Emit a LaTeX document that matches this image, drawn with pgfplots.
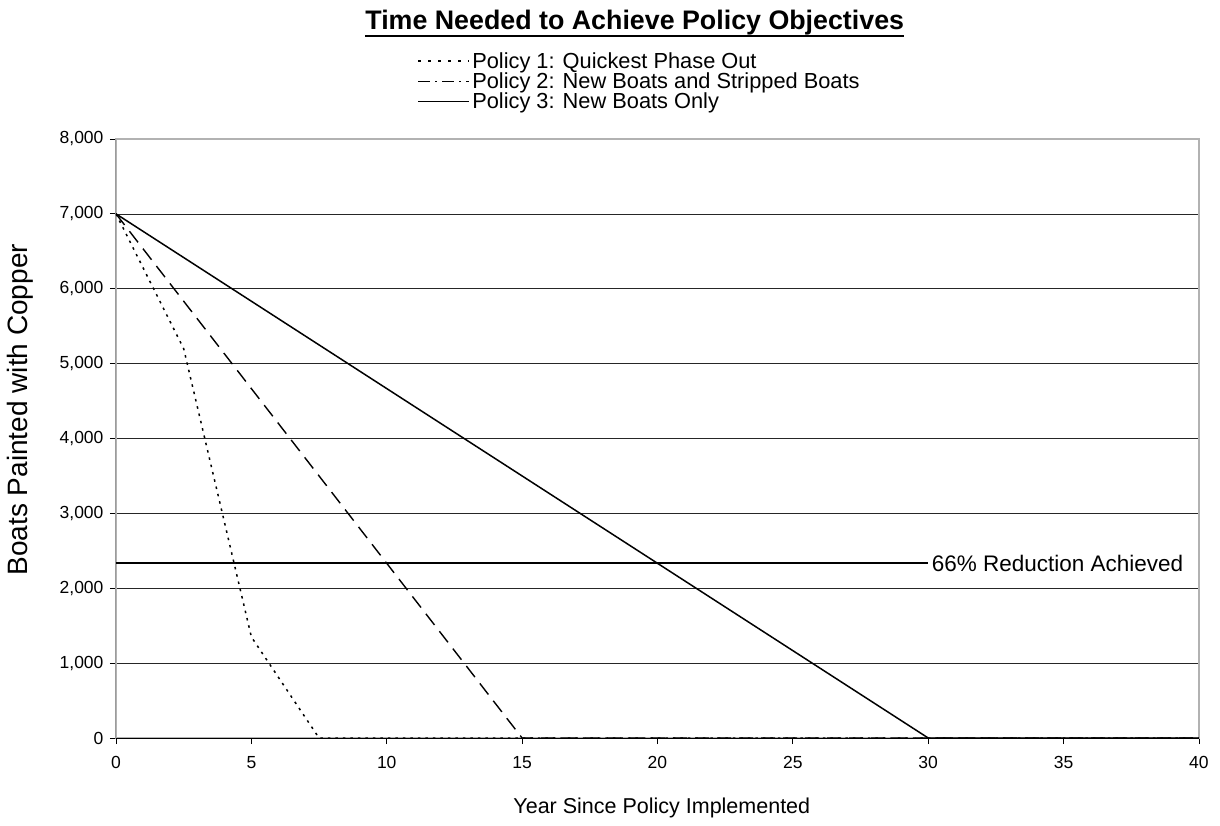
\documentclass[border=0pt]{standalone}
\usepackage{fontspec}
\setmainfont{Liberation Sans}
\usepackage{pgfplots}
\pgfplotsset{compat=1.18}
\begin{document}
\begin{tikzpicture}
\useasboundingbox (-116pt,-87pt) rectangle (1104pt,738pt);
\begin{axis}[
  scale only axis, width=1083pt, height=599pt,
  xmin=0, xmax=40, ymin=0, ymax=8000,
  xtick={0,5,...,40}, ytick={0,1000,...,8000},
  tick align=outside, xtick pos=bottom, ytick pos=left,
  major tick length=6pt,
  tick style={black, line width=0.8pt},
  ymajorgrids, grid style={black!85, line width=0.7pt},
  axis line style={draw=gray!60, line width=1.5pt},
  /pgf/number format/assume math mode=true,
  /pgf/number format/1000 sep={,},
  scaled y ticks=false,
  ticklabel style={font=\fontsize{17.5}{20}\selectfont},
  yticklabel style={xshift=-3pt},
  xticklabel style={yshift=-9pt},
  title={\setbox0\hbox{Time Needed to Achieve Policy Objectives}\rlap{\copy0}\rule[-7.5pt]{\wd0}{2.5pt}},
  title style={font=\fontsize{26.8}{30}\selectfont\bfseries, at={(axis description cs:0.479,1)}, anchor=base, yshift=103pt},
  xlabel={Year Since Policy Implemented},
  ylabel={Boats Painted with Copper},
  xlabel style={font=\fontsize{21.5}{24}\selectfont, at={(axis description cs:0.504,-0.117)}, anchor=center},
  ylabel style={font=\fontsize{28}{30}\selectfont, at={(axis description cs:-0.0885,0.548)}, anchor=center},
  legend style={at={(axis description cs:0.278,1.145)}, anchor=north west, draw=none, fill=none,
    font=\fontsize{21.8}{24}\selectfont, inner sep=0pt, row sep=3pt,
    nodes={inner ysep=0pt, inner xsep=2.5pt}},
  legend cell align=left,
]
\draw[black, line width=1pt] (rel axis cs:0,1) -- (rel axis cs:0,0) -- (rel axis cs:1,0);
\addplot[black, line width=1.5pt, dash pattern=on 2.5pt off 5pt,
  legend image code/.code={\draw[black, line width=1.4pt, dash pattern=on 3pt off 7pt] (0pt,0pt) -- (51pt,0pt);}]
  coordinates {(0,7000) (2.5,5200) (5,1350) (7.5,0) (40,0)};
\addlegendentry{Policy 1: Quickest Phase Out}
\addplot[black, line width=1.4pt, dash pattern=on 14pt off 8pt,
  legend image code/.code={\draw[black, line width=1.4pt, dash pattern=on 12pt off 5pt on 2pt off 5pt] (0pt,0pt) -- (51pt,0pt);}]
  coordinates {(0,7000) (15,0) (40,0)};
\addlegendentry{Policy 2: New Boats and Stripped Boats}
\addplot[black, line width=1.5pt,
  legend image code/.code={\draw[black, line width=1.5pt] (0pt,0pt) -- (51pt,0pt);}]
  coordinates {(0,7000) (30,0) (40,0)};
\addlegendentry{Policy 3: New Boats Only}
\addplot[black, line width=1.8pt, forget plot] coordinates {(0,2333) (30,2333)};
\node[anchor=west, font=\fontsize{22.5}{24}\selectfont] at (axis cs:30,2333) {66\% Reduction Achieved};
\end{axis}
\end{tikzpicture}
\end{document}
